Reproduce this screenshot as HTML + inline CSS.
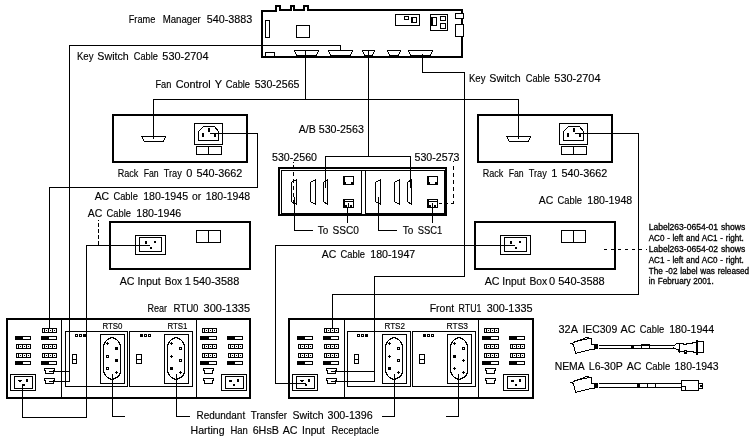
<!DOCTYPE html>
<html><head><meta charset="utf-8"><style>
html,body{margin:0;padding:0;background:#fff;}
svg{display:block;}
text{font-family:"Liberation Sans",sans-serif;fill:#000;word-spacing:2px;stroke:#000;stroke-width:0.15px;}
text.n{stroke-width:0.3px;}
svg{filter:grayscale(1);}
</style></head><body>
<svg width="754" height="440" viewBox="0 0 754 440" shape-rendering="crispEdges">
<rect width="754" height="440" fill="#fff"/>
<rect x="261" y="10" width="2" height="48" fill="#000"/>
<rect x="461" y="9" width="2" height="49" fill="#000"/>
<rect x="261" y="56" width="202" height="2" fill="#000"/>
<rect x="261" y="10" width="14" height="2" fill="#000"/>
<rect x="281" y="9" width="10" height="2" fill="#000"/>
<rect x="295" y="9" width="9" height="2" fill="#000"/>
<rect x="309" y="9" width="154" height="2" fill="#000"/>
<rect x="275" y="5" width="6" height="2" fill="#000"/>
<rect x="275" y="5" width="2" height="7" fill="#000"/>
<rect x="279" y="5" width="2" height="6" fill="#000"/>
<rect x="290" y="5" width="5" height="2" fill="#000"/>
<rect x="290" y="5" width="2" height="6" fill="#000"/>
<rect x="293" y="5" width="2" height="6" fill="#000"/>
<rect x="303" y="5" width="6" height="2" fill="#000"/>
<rect x="303" y="5" width="2" height="6" fill="#000"/>
<rect x="307" y="5" width="2" height="6" fill="#000"/>
<rect x="265" y="20" width="5" height="1" fill="#000"/>
<rect x="265" y="37" width="5" height="1" fill="#000"/>
<rect x="265" y="20" width="1" height="18" fill="#000"/>
<rect x="269" y="20" width="1" height="18" fill="#000"/>
<rect x="296" y="25" width="14" height="1" fill="#000"/>
<rect x="296" y="37" width="14" height="1" fill="#000"/>
<rect x="296" y="25" width="1" height="13" fill="#000"/>
<rect x="309" y="25" width="1" height="13" fill="#000"/>
<rect x="265" y="52" width="10" height="1" fill="#000"/>
<rect x="265" y="56" width="10" height="1" fill="#000"/>
<rect x="265" y="52" width="1" height="5" fill="#000"/>
<rect x="274" y="52" width="1" height="5" fill="#000"/>
<path d="M294.5 50.5 H318.5 L316.5 55.5 H296.5 Z" fill="none" stroke="#000" stroke-width="1"/>
<path d="M328.5 50.5 H352.5 L350.5 55.5 H330.5 Z" fill="none" stroke="#000" stroke-width="1"/>
<path d="M362.5 50.5 H374.5 L372.5 55.5 H364.5 Z" fill="none" stroke="#000" stroke-width="1"/>
<path d="M387.5 50.5 H400.5 L398.5 55.5 H389.5 Z" fill="none" stroke="#000" stroke-width="1"/>
<path d="M408.5 50.5 H432.5 L430.5 55.5 H410.5 Z" fill="none" stroke="#000" stroke-width="1"/>
<rect x="395" y="14" width="25" height="1" fill="#000"/>
<rect x="395" y="25" width="25" height="1" fill="#000"/>
<rect x="395" y="14" width="1" height="12" fill="#000"/>
<rect x="419" y="14" width="1" height="12" fill="#000"/>
<rect x="404" y="16" width="5" height="1" fill="#000"/>
<rect x="404" y="19" width="5" height="1" fill="#000"/>
<rect x="404" y="16" width="1" height="4" fill="#000"/>
<rect x="408" y="16" width="1" height="4" fill="#000"/>
<rect x="411" y="17" width="6" height="1" fill="#000"/>
<rect x="411" y="22" width="6" height="1" fill="#000"/>
<rect x="411" y="17" width="1" height="6" fill="#000"/>
<rect x="416" y="17" width="1" height="6" fill="#000"/>
<rect x="412" y="17" width="1" height="6" fill="#000"/>
<rect x="430" y="14" width="18" height="1" fill="#000"/>
<rect x="430" y="30" width="18" height="1" fill="#000"/>
<rect x="430" y="14" width="1" height="17" fill="#000"/>
<rect x="447" y="14" width="1" height="17" fill="#000"/>
<rect x="431" y="17" width="6" height="1" fill="#000"/>
<rect x="431" y="25" width="6" height="1" fill="#000"/>
<rect x="431" y="17" width="1" height="9" fill="#000"/>
<rect x="436" y="17" width="1" height="9" fill="#000"/>
<rect x="432" y="17" width="1" height="9" fill="#000"/>
<rect x="440" y="16" width="6" height="1" fill="#000"/>
<rect x="440" y="20" width="6" height="1" fill="#000"/>
<rect x="440" y="16" width="1" height="5" fill="#000"/>
<rect x="445" y="16" width="1" height="5" fill="#000"/>
<rect x="440" y="23" width="6" height="1" fill="#000"/>
<rect x="440" y="28" width="6" height="1" fill="#000"/>
<rect x="440" y="23" width="1" height="6" fill="#000"/>
<rect x="445" y="23" width="1" height="6" fill="#000"/>
<rect x="455" y="13" width="9" height="1" fill="#000"/>
<rect x="455" y="18" width="9" height="1" fill="#000"/>
<rect x="455" y="13" width="1" height="6" fill="#000"/>
<rect x="463" y="13" width="1" height="6" fill="#000"/>
<rect x="456" y="14" width="7" height="4" fill="#fff"/>
<rect x="455" y="24" width="9" height="1" fill="#000"/>
<rect x="455" y="36" width="9" height="1" fill="#000"/>
<rect x="455" y="24" width="1" height="13" fill="#000"/>
<rect x="463" y="24" width="1" height="13" fill="#000"/>
<rect x="456" y="25" width="7" height="11" fill="#fff"/>
<rect x="340" y="45" width="1" height="6" fill="#000"/>
<rect x="69" y="45" width="272" height="1" fill="#000"/>
<rect x="69" y="45" width="1" height="337" fill="#000"/>
<rect x="49" y="371" width="21" height="1" fill="#000"/>
<rect x="49" y="381" width="21" height="1" fill="#000"/>
<rect x="305" y="50" width="1" height="50" fill="#000"/>
<rect x="153" y="99" width="366" height="1" fill="#000"/>
<rect x="153" y="99" width="1" height="40" fill="#000"/>
<rect x="518" y="99" width="1" height="40" fill="#000"/>
<rect x="368" y="50" width="1" height="107" fill="#000"/>
<rect x="325" y="156" width="86" height="1" fill="#000"/>
<rect x="325" y="156" width="1" height="32" fill="#000"/>
<rect x="410" y="156" width="1" height="32" fill="#000"/>
<rect x="422" y="54" width="1" height="19" fill="#000"/>
<rect x="422" y="72" width="43" height="1" fill="#000"/>
<rect x="464" y="72" width="1" height="205" fill="#000"/>
<rect x="374" y="276" width="91" height="1" fill="#000"/>
<rect x="374" y="276" width="1" height="106" fill="#000"/>
<rect x="331" y="371" width="44" height="1" fill="#000"/>
<rect x="331" y="381" width="44" height="1" fill="#000"/>
<rect x="112" y="114" width="136" height="2" fill="#000"/>
<rect x="112" y="161" width="136" height="2" fill="#000"/>
<rect x="112" y="114" width="2" height="49" fill="#000"/>
<rect x="246" y="114" width="2" height="49" fill="#000"/>
<path d="M141.5 136.5 H165.5 L163.5 141.5 H144.5 Z" fill="none" stroke="#000" stroke-width="1"/>
<rect x="194" y="123" width="29" height="1" fill="#000"/>
<rect x="194" y="144" width="29" height="1" fill="#000"/>
<rect x="194" y="123" width="1" height="22" fill="#000"/>
<rect x="222" y="123" width="1" height="22" fill="#000"/>
<path d="M198.5 140.5 V131.5 L203.5 126.5 H214.5 L218.5 131.5 V140.5 Z" fill="none" stroke="#000" stroke-width="1"/>
<rect x="202" y="133" width="2" height="4" fill="#000"/>
<rect x="208" y="128" width="2" height="4" fill="#000"/>
<rect x="214" y="133" width="2" height="4" fill="#000"/>
<rect x="196" y="146" width="26" height="1" fill="#000"/>
<rect x="196" y="154" width="26" height="1" fill="#000"/>
<rect x="196" y="146" width="1" height="9" fill="#000"/>
<rect x="221" y="146" width="1" height="9" fill="#000"/>
<rect x="208" y="146" width="1" height="9" fill="#000"/>
<rect x="477" y="114" width="136" height="2" fill="#000"/>
<rect x="477" y="161" width="136" height="2" fill="#000"/>
<rect x="477" y="114" width="2" height="49" fill="#000"/>
<rect x="611" y="114" width="2" height="49" fill="#000"/>
<path d="M506.5 136.5 H530.5 L528.5 141.5 H509.5 Z" fill="none" stroke="#000" stroke-width="1"/>
<rect x="559" y="123" width="29" height="1" fill="#000"/>
<rect x="559" y="144" width="29" height="1" fill="#000"/>
<rect x="559" y="123" width="1" height="22" fill="#000"/>
<rect x="587" y="123" width="1" height="22" fill="#000"/>
<path d="M563.5 140.5 V131.5 L568.5 126.5 H579.5 L583.5 131.5 V140.5 Z" fill="none" stroke="#000" stroke-width="1"/>
<rect x="567" y="133" width="2" height="4" fill="#000"/>
<rect x="573" y="128" width="2" height="4" fill="#000"/>
<rect x="579" y="133" width="2" height="4" fill="#000"/>
<rect x="561" y="146" width="26" height="1" fill="#000"/>
<rect x="561" y="154" width="26" height="1" fill="#000"/>
<rect x="561" y="146" width="1" height="9" fill="#000"/>
<rect x="586" y="146" width="1" height="9" fill="#000"/>
<rect x="573" y="146" width="1" height="9" fill="#000"/>
<rect x="210" y="133" width="48" height="1" fill="#000"/>
<rect x="257" y="133" width="1" height="55" fill="#000"/>
<rect x="49" y="187" width="209" height="1" fill="#000"/>
<rect x="49" y="187" width="1" height="142" fill="#000"/>
<rect x="575" y="133" width="64" height="1" fill="#000"/>
<rect x="638" y="133" width="1" height="162" fill="#000"/>
<rect x="332" y="294" width="307" height="1" fill="#000"/>
<rect x="332" y="294" width="1" height="35" fill="#000"/>
<rect x="278" y="167" width="169" height="2" fill="#000"/>
<rect x="278" y="214" width="169" height="2" fill="#000"/>
<rect x="278" y="167" width="2" height="49" fill="#000"/>
<rect x="445" y="167" width="2" height="49" fill="#000"/>
<rect x="281" y="170" width="81" height="1" fill="#000"/>
<rect x="281" y="213" width="81" height="1" fill="#000"/>
<rect x="281" y="170" width="1" height="44" fill="#000"/>
<rect x="361" y="170" width="1" height="44" fill="#000"/>
<rect x="365" y="170" width="80" height="1" fill="#000"/>
<rect x="365" y="213" width="80" height="1" fill="#000"/>
<rect x="365" y="170" width="1" height="44" fill="#000"/>
<rect x="444" y="170" width="1" height="44" fill="#000"/>
<rect x="361" y="170" width="5" height="1" fill="#000"/>
<path d="M296.5 179.5 V204.5 L291.5 201.5 V182.5 Z" fill="none" stroke="#000" stroke-width="1"/>
<path d="M315.5 179.5 V204.5 L310.5 201.5 V182.5 Z" fill="none" stroke="#000" stroke-width="1"/>
<path d="M327.5 179.5 V204.5 L323.5 201.5 V182.5 Z" fill="none" stroke="#000" stroke-width="1"/>
<rect x="343" y="176" width="11" height="1" fill="#000"/>
<rect x="343" y="184" width="11" height="1" fill="#000"/>
<rect x="343" y="176" width="1" height="9" fill="#000"/>
<rect x="353" y="176" width="1" height="9" fill="#000"/>
<rect x="344" y="182" width="2" height="2" fill="#000"/>
<rect x="351" y="182" width="2" height="2" fill="#000"/>
<rect x="344" y="177" width="1" height="7" fill="#000"/>
<rect x="343" y="199" width="11" height="1" fill="#000"/>
<rect x="343" y="207" width="11" height="1" fill="#000"/>
<rect x="343" y="199" width="1" height="9" fill="#000"/>
<rect x="353" y="199" width="1" height="9" fill="#000"/>
<rect x="343" y="201" width="11" height="1" fill="#000"/>
<rect x="344" y="200" width="1" height="7" fill="#000"/>
<rect x="345" y="205" width="2" height="2" fill="#000"/>
<rect x="350" y="205" width="2" height="2" fill="#000"/>
<rect x="348" y="203" width="1" height="5" fill="#000"/>
<path d="M380.5 179.5 V204.5 L375.5 201.5 V182.5 Z" fill="none" stroke="#000" stroke-width="1"/>
<path d="M399.5 179.5 V204.5 L394.5 201.5 V182.5 Z" fill="none" stroke="#000" stroke-width="1"/>
<path d="M411.5 179.5 V204.5 L407.5 201.5 V182.5 Z" fill="none" stroke="#000" stroke-width="1"/>
<rect x="427" y="176" width="11" height="1" fill="#000"/>
<rect x="427" y="184" width="11" height="1" fill="#000"/>
<rect x="427" y="176" width="1" height="9" fill="#000"/>
<rect x="437" y="176" width="1" height="9" fill="#000"/>
<rect x="428" y="182" width="2" height="2" fill="#000"/>
<rect x="435" y="182" width="2" height="2" fill="#000"/>
<rect x="428" y="177" width="1" height="7" fill="#000"/>
<rect x="427" y="199" width="11" height="1" fill="#000"/>
<rect x="427" y="207" width="11" height="1" fill="#000"/>
<rect x="427" y="199" width="1" height="9" fill="#000"/>
<rect x="437" y="199" width="1" height="9" fill="#000"/>
<rect x="427" y="201" width="11" height="1" fill="#000"/>
<rect x="428" y="200" width="1" height="7" fill="#000"/>
<rect x="429" y="205" width="2" height="2" fill="#000"/>
<rect x="434" y="205" width="2" height="2" fill="#000"/>
<rect x="432" y="203" width="1" height="5" fill="#000"/>
<rect x="294" y="197" width="1" height="34" fill="#000"/>
<rect x="294" y="230" width="19" height="1" fill="#000"/>
<rect x="347" y="207" width="1" height="16" fill="#000"/>
<rect x="378" y="197" width="1" height="34" fill="#000"/>
<rect x="378" y="230" width="19" height="1" fill="#000"/>
<rect x="432" y="207" width="1" height="16" fill="#000"/>
<rect x="293" y="162" width="1" height="1" fill="#000"/>
<rect x="293" y="165" width="1" height="4" fill="#000"/>
<rect x="293" y="172" width="1" height="4" fill="#000"/>
<rect x="293" y="179" width="1" height="4" fill="#000"/>
<rect x="293" y="186" width="1" height="4" fill="#000"/>
<rect x="293" y="193" width="1" height="4" fill="#000"/>
<rect x="293" y="200" width="1" height="4" fill="#000"/>
<rect x="453" y="161" width="1" height="1" fill="#000"/>
<rect x="453" y="166" width="1" height="4" fill="#000"/>
<rect x="453" y="173" width="1" height="4" fill="#000"/>
<rect x="453" y="180" width="1" height="4" fill="#000"/>
<rect x="453" y="187" width="1" height="4" fill="#000"/>
<rect x="453" y="194" width="1" height="4" fill="#000"/>
<rect x="453" y="201" width="1" height="3" fill="#000"/>
<rect x="439" y="203" width="3" height="1" fill="#000"/>
<rect x="445" y="203" width="3" height="1" fill="#000"/>
<rect x="451" y="203" width="3" height="1" fill="#000"/>
<rect x="109" y="221" width="142" height="2" fill="#000"/>
<rect x="109" y="268" width="142" height="2" fill="#000"/>
<rect x="109" y="221" width="2" height="49" fill="#000"/>
<rect x="249" y="221" width="2" height="49" fill="#000"/>
<rect x="135" y="235" width="31" height="1" fill="#000"/>
<rect x="135" y="254" width="31" height="1" fill="#000"/>
<rect x="135" y="235" width="1" height="20" fill="#000"/>
<rect x="165" y="235" width="1" height="20" fill="#000"/>
<rect x="139" y="237" width="23" height="1" fill="#000"/>
<rect x="139" y="251" width="23" height="1" fill="#000"/>
<rect x="139" y="237" width="1" height="15" fill="#000"/>
<rect x="161" y="237" width="1" height="15" fill="#000"/>
<rect x="145" y="241" width="2" height="3" fill="#000"/>
<rect x="154" y="241" width="2" height="2" fill="#000"/>
<rect x="150" y="247" width="2" height="2" fill="#000"/>
<rect x="196" y="230" width="25" height="1" fill="#000"/>
<rect x="196" y="242" width="25" height="1" fill="#000"/>
<rect x="196" y="230" width="1" height="13" fill="#000"/>
<rect x="220" y="230" width="1" height="13" fill="#000"/>
<rect x="208" y="230" width="1" height="13" fill="#000"/>
<rect x="474" y="221" width="142" height="2" fill="#000"/>
<rect x="474" y="268" width="142" height="2" fill="#000"/>
<rect x="474" y="221" width="2" height="49" fill="#000"/>
<rect x="614" y="221" width="2" height="49" fill="#000"/>
<rect x="500" y="235" width="31" height="1" fill="#000"/>
<rect x="500" y="254" width="31" height="1" fill="#000"/>
<rect x="500" y="235" width="1" height="20" fill="#000"/>
<rect x="530" y="235" width="1" height="20" fill="#000"/>
<rect x="504" y="237" width="23" height="1" fill="#000"/>
<rect x="504" y="251" width="23" height="1" fill="#000"/>
<rect x="504" y="237" width="1" height="15" fill="#000"/>
<rect x="526" y="237" width="1" height="15" fill="#000"/>
<rect x="510" y="241" width="2" height="3" fill="#000"/>
<rect x="519" y="241" width="2" height="2" fill="#000"/>
<rect x="515" y="247" width="2" height="2" fill="#000"/>
<rect x="561" y="230" width="25" height="1" fill="#000"/>
<rect x="561" y="242" width="25" height="1" fill="#000"/>
<rect x="561" y="230" width="1" height="13" fill="#000"/>
<rect x="585" y="230" width="1" height="13" fill="#000"/>
<rect x="573" y="230" width="1" height="13" fill="#000"/>
<rect x="86" y="245" width="64" height="1" fill="#000"/>
<rect x="86" y="245" width="1" height="173" fill="#000"/>
<rect x="22" y="417" width="65" height="1" fill="#000"/>
<rect x="22" y="384" width="1" height="34" fill="#000"/>
<rect x="98" y="220" width="1" height="1" fill="#000"/>
<rect x="98" y="223" width="1" height="4" fill="#000"/>
<rect x="98" y="229" width="1" height="4" fill="#000"/>
<rect x="98" y="235" width="1" height="4" fill="#000"/>
<rect x="98" y="241" width="1" height="4" fill="#000"/>
<rect x="275" y="245" width="240" height="1" fill="#000"/>
<rect x="275" y="245" width="1" height="139" fill="#000"/>
<rect x="275" y="383" width="31" height="1" fill="#000"/>
<rect x="604" y="249" width="3" height="1" fill="#000"/>
<rect x="611" y="249" width="3" height="1" fill="#000"/>
<rect x="618" y="249" width="3" height="1" fill="#000"/>
<rect x="625" y="249" width="3" height="1" fill="#000"/>
<rect x="632" y="249" width="3" height="1" fill="#000"/>
<rect x="639" y="249" width="3" height="1" fill="#000"/>
<rect x="646" y="249" width="1" height="1" fill="#000"/>
<rect x="6" y="318" width="245" height="2" fill="#000"/>
<rect x="6" y="397" width="245" height="2" fill="#000"/>
<rect x="6" y="318" width="2" height="81" fill="#000"/>
<rect x="249" y="318" width="2" height="81" fill="#000"/>
<rect x="61" y="318" width="1" height="81" fill="#000"/>
<rect x="196" y="318" width="1" height="81" fill="#000"/>
<rect x="42" y="328" width="15" height="1" fill="#000"/>
<rect x="42" y="332" width="15" height="1" fill="#000"/>
<rect x="42" y="328" width="1" height="5" fill="#000"/>
<rect x="56" y="328" width="1" height="5" fill="#000"/>
<rect x="44" y="329" width="1" height="3" fill="#000"/>
<rect x="46" y="330" width="1" height="1" fill="#000"/>
<rect x="48" y="329" width="1" height="3" fill="#000"/>
<rect x="50" y="330" width="1" height="1" fill="#000"/>
<rect x="52" y="329" width="1" height="3" fill="#000"/>
<rect x="54" y="330" width="1" height="1" fill="#000"/>
<rect x="15" y="336" width="16" height="1" fill="#000"/>
<rect x="15" y="339" width="16" height="1" fill="#000"/>
<rect x="15" y="336" width="1" height="4" fill="#000"/>
<rect x="30" y="336" width="1" height="4" fill="#000"/>
<rect x="15" y="336" width="8" height="4" fill="#000"/>
<rect x="41" y="336" width="16" height="1" fill="#000"/>
<rect x="41" y="339" width="16" height="1" fill="#000"/>
<rect x="41" y="336" width="1" height="4" fill="#000"/>
<rect x="56" y="336" width="1" height="4" fill="#000"/>
<rect x="41" y="336" width="8" height="4" fill="#000"/>
<rect x="16" y="344" width="15" height="1" fill="#000"/>
<rect x="16" y="348" width="15" height="1" fill="#000"/>
<rect x="16" y="344" width="1" height="5" fill="#000"/>
<rect x="30" y="344" width="1" height="5" fill="#000"/>
<rect x="18" y="345" width="1" height="3" fill="#000"/>
<rect x="20" y="346" width="1" height="1" fill="#000"/>
<rect x="22" y="345" width="1" height="3" fill="#000"/>
<rect x="24" y="346" width="1" height="1" fill="#000"/>
<rect x="26" y="345" width="1" height="3" fill="#000"/>
<rect x="28" y="346" width="1" height="1" fill="#000"/>
<rect x="42" y="344" width="15" height="1" fill="#000"/>
<rect x="42" y="348" width="15" height="1" fill="#000"/>
<rect x="42" y="344" width="1" height="5" fill="#000"/>
<rect x="56" y="344" width="1" height="5" fill="#000"/>
<rect x="44" y="345" width="1" height="3" fill="#000"/>
<rect x="46" y="346" width="1" height="1" fill="#000"/>
<rect x="48" y="345" width="1" height="3" fill="#000"/>
<rect x="50" y="346" width="1" height="1" fill="#000"/>
<rect x="52" y="345" width="1" height="3" fill="#000"/>
<rect x="54" y="346" width="1" height="1" fill="#000"/>
<rect x="16" y="353" width="15" height="1" fill="#000"/>
<rect x="16" y="357" width="15" height="1" fill="#000"/>
<rect x="16" y="353" width="1" height="5" fill="#000"/>
<rect x="30" y="353" width="1" height="5" fill="#000"/>
<rect x="18" y="354" width="1" height="3" fill="#000"/>
<rect x="20" y="355" width="1" height="1" fill="#000"/>
<rect x="22" y="354" width="1" height="3" fill="#000"/>
<rect x="24" y="355" width="1" height="1" fill="#000"/>
<rect x="26" y="354" width="1" height="3" fill="#000"/>
<rect x="28" y="355" width="1" height="1" fill="#000"/>
<rect x="42" y="353" width="15" height="1" fill="#000"/>
<rect x="42" y="357" width="15" height="1" fill="#000"/>
<rect x="42" y="353" width="1" height="5" fill="#000"/>
<rect x="56" y="353" width="1" height="5" fill="#000"/>
<rect x="44" y="354" width="1" height="3" fill="#000"/>
<rect x="46" y="355" width="1" height="1" fill="#000"/>
<rect x="48" y="354" width="1" height="3" fill="#000"/>
<rect x="50" y="355" width="1" height="1" fill="#000"/>
<rect x="52" y="354" width="1" height="3" fill="#000"/>
<rect x="54" y="355" width="1" height="1" fill="#000"/>
<rect x="15" y="361" width="16" height="1" fill="#000"/>
<rect x="15" y="364" width="16" height="1" fill="#000"/>
<rect x="15" y="361" width="1" height="4" fill="#000"/>
<rect x="30" y="361" width="1" height="4" fill="#000"/>
<rect x="15" y="361" width="8" height="4" fill="#000"/>
<rect x="41" y="361" width="16" height="1" fill="#000"/>
<rect x="41" y="364" width="16" height="1" fill="#000"/>
<rect x="41" y="361" width="1" height="4" fill="#000"/>
<rect x="56" y="361" width="1" height="4" fill="#000"/>
<rect x="41" y="361" width="8" height="4" fill="#000"/>
<path d="M44.5 368.5 H54.5 V370.5 H53.5 L53.5 373.5 H45.5 V370.5 H44.5 Z" fill="none" stroke="#000" stroke-width="1"/>
<path d="M44.5 378.5 H54.5 V380.5 H53.5 L53.5 383.5 H45.5 V380.5 H44.5 Z" fill="none" stroke="#000" stroke-width="1"/>
<rect x="10" y="374" width="26" height="1" fill="#000"/>
<rect x="10" y="390" width="26" height="1" fill="#000"/>
<rect x="10" y="374" width="1" height="17" fill="#000"/>
<rect x="35" y="374" width="1" height="17" fill="#000"/>
<rect x="14" y="376" width="19" height="1" fill="#000"/>
<rect x="14" y="388" width="19" height="1" fill="#000"/>
<rect x="14" y="376" width="1" height="13" fill="#000"/>
<rect x="32" y="376" width="1" height="13" fill="#000"/>
<rect x="18" y="380" width="4" height="1" fill="#000"/>
<rect x="19" y="381" width="2" height="1" fill="#000"/>
<rect x="26" y="379" width="2" height="3" fill="#000"/>
<rect x="23" y="384" width="2" height="2" fill="#000"/>
<rect x="202" y="328" width="15" height="1" fill="#000"/>
<rect x="202" y="332" width="15" height="1" fill="#000"/>
<rect x="202" y="328" width="1" height="5" fill="#000"/>
<rect x="216" y="328" width="1" height="5" fill="#000"/>
<rect x="204" y="329" width="1" height="3" fill="#000"/>
<rect x="206" y="330" width="1" height="1" fill="#000"/>
<rect x="208" y="329" width="1" height="3" fill="#000"/>
<rect x="210" y="330" width="1" height="1" fill="#000"/>
<rect x="212" y="329" width="1" height="3" fill="#000"/>
<rect x="214" y="330" width="1" height="1" fill="#000"/>
<rect x="200" y="336" width="17" height="1" fill="#000"/>
<rect x="200" y="339" width="17" height="1" fill="#000"/>
<rect x="200" y="336" width="1" height="4" fill="#000"/>
<rect x="216" y="336" width="1" height="4" fill="#000"/>
<rect x="200" y="336" width="9" height="4" fill="#000"/>
<rect x="227" y="336" width="16" height="1" fill="#000"/>
<rect x="227" y="339" width="16" height="1" fill="#000"/>
<rect x="227" y="336" width="1" height="4" fill="#000"/>
<rect x="242" y="336" width="1" height="4" fill="#000"/>
<rect x="227" y="336" width="8" height="4" fill="#000"/>
<rect x="202" y="344" width="15" height="1" fill="#000"/>
<rect x="202" y="348" width="15" height="1" fill="#000"/>
<rect x="202" y="344" width="1" height="5" fill="#000"/>
<rect x="216" y="344" width="1" height="5" fill="#000"/>
<rect x="204" y="345" width="1" height="3" fill="#000"/>
<rect x="206" y="346" width="1" height="1" fill="#000"/>
<rect x="208" y="345" width="1" height="3" fill="#000"/>
<rect x="210" y="346" width="1" height="1" fill="#000"/>
<rect x="212" y="345" width="1" height="3" fill="#000"/>
<rect x="214" y="346" width="1" height="1" fill="#000"/>
<rect x="228" y="344" width="15" height="1" fill="#000"/>
<rect x="228" y="348" width="15" height="1" fill="#000"/>
<rect x="228" y="344" width="1" height="5" fill="#000"/>
<rect x="242" y="344" width="1" height="5" fill="#000"/>
<rect x="230" y="345" width="1" height="3" fill="#000"/>
<rect x="232" y="346" width="1" height="1" fill="#000"/>
<rect x="234" y="345" width="1" height="3" fill="#000"/>
<rect x="236" y="346" width="1" height="1" fill="#000"/>
<rect x="238" y="345" width="1" height="3" fill="#000"/>
<rect x="240" y="346" width="1" height="1" fill="#000"/>
<rect x="202" y="353" width="15" height="1" fill="#000"/>
<rect x="202" y="357" width="15" height="1" fill="#000"/>
<rect x="202" y="353" width="1" height="5" fill="#000"/>
<rect x="216" y="353" width="1" height="5" fill="#000"/>
<rect x="204" y="354" width="1" height="3" fill="#000"/>
<rect x="206" y="355" width="1" height="1" fill="#000"/>
<rect x="208" y="354" width="1" height="3" fill="#000"/>
<rect x="210" y="355" width="1" height="1" fill="#000"/>
<rect x="212" y="354" width="1" height="3" fill="#000"/>
<rect x="214" y="355" width="1" height="1" fill="#000"/>
<rect x="228" y="353" width="15" height="1" fill="#000"/>
<rect x="228" y="357" width="15" height="1" fill="#000"/>
<rect x="228" y="353" width="1" height="5" fill="#000"/>
<rect x="242" y="353" width="1" height="5" fill="#000"/>
<rect x="230" y="354" width="1" height="3" fill="#000"/>
<rect x="232" y="355" width="1" height="1" fill="#000"/>
<rect x="234" y="354" width="1" height="3" fill="#000"/>
<rect x="236" y="355" width="1" height="1" fill="#000"/>
<rect x="238" y="354" width="1" height="3" fill="#000"/>
<rect x="240" y="355" width="1" height="1" fill="#000"/>
<rect x="200" y="361" width="17" height="1" fill="#000"/>
<rect x="200" y="364" width="17" height="1" fill="#000"/>
<rect x="200" y="361" width="1" height="4" fill="#000"/>
<rect x="216" y="361" width="1" height="4" fill="#000"/>
<rect x="200" y="361" width="9" height="4" fill="#000"/>
<rect x="227" y="361" width="16" height="1" fill="#000"/>
<rect x="227" y="364" width="16" height="1" fill="#000"/>
<rect x="227" y="361" width="1" height="4" fill="#000"/>
<rect x="242" y="361" width="1" height="4" fill="#000"/>
<rect x="227" y="361" width="8" height="4" fill="#000"/>
<path d="M203.5 368.5 H213.5 V370.5 H212.5 L212.5 373.5 H204.5 V370.5 H203.5 Z" fill="none" stroke="#000" stroke-width="1"/>
<path d="M203.5 378.5 H213.5 V380.5 H212.5 L212.5 383.5 H204.5 V380.5 H203.5 Z" fill="none" stroke="#000" stroke-width="1"/>
<rect x="221" y="374" width="26" height="1" fill="#000"/>
<rect x="221" y="390" width="26" height="1" fill="#000"/>
<rect x="221" y="374" width="1" height="17" fill="#000"/>
<rect x="246" y="374" width="1" height="17" fill="#000"/>
<rect x="225" y="376" width="19" height="1" fill="#000"/>
<rect x="225" y="388" width="19" height="1" fill="#000"/>
<rect x="225" y="376" width="1" height="13" fill="#000"/>
<rect x="243" y="376" width="1" height="13" fill="#000"/>
<rect x="229" y="380" width="3" height="2" fill="#000"/>
<rect x="237" y="379" width="2" height="3" fill="#000"/>
<rect x="233" y="384" width="2" height="2" fill="#000"/>
<rect x="65" y="331" width="63" height="1" fill="#000"/>
<rect x="65" y="386" width="63" height="1" fill="#000"/>
<rect x="65" y="331" width="1" height="56" fill="#000"/>
<rect x="127" y="331" width="1" height="56" fill="#000"/>
<rect x="129" y="331" width="64" height="1" fill="#000"/>
<rect x="129" y="386" width="64" height="1" fill="#000"/>
<rect x="129" y="331" width="1" height="56" fill="#000"/>
<rect x="192" y="331" width="1" height="56" fill="#000"/>
<rect x="100" y="334" width="25" height="1" fill="#000"/>
<rect x="100" y="383" width="25" height="1" fill="#000"/>
<rect x="100" y="334" width="1" height="50" fill="#000"/>
<rect x="124" y="334" width="1" height="50" fill="#000"/>
<path d="M103.5 345.5 L104.5 343.5 L105.5 341.5 L107.5 339.5 L109.5 338.5 L111.5 337.5 L112.5 337.5 L114.5 338.5 L116.5 339.5 L118.5 341.5 L119.5 343.5 L120.5 345.5 L120.5 372.5 L119.5 374.5 L118.5 376.5 L116.5 377.5 L114.5 378.5 L112.5 379.5 L111.5 379.5 L109.5 378.5 L107.5 377.5 L105.5 375.5 L104.5 373.5 L103.5 371.5 Z" fill="none" stroke="#000" stroke-width="1"/>
<rect x="107" y="342" width="1" height="3" fill="#000"/>
<rect x="106" y="343" width="3" height="1" fill="#000"/>
<rect x="106" y="355" width="3" height="1" fill="#000"/>
<rect x="106" y="357" width="3" height="1" fill="#000"/>
<rect x="106" y="355" width="1" height="3" fill="#000"/>
<rect x="108" y="355" width="1" height="3" fill="#000"/>
<rect x="106" y="367" width="3" height="1" fill="#000"/>
<rect x="106" y="369" width="3" height="1" fill="#000"/>
<rect x="106" y="367" width="1" height="3" fill="#000"/>
<rect x="108" y="367" width="1" height="3" fill="#000"/>
<rect x="115" y="347" width="3" height="3" fill="#000"/>
<rect x="115" y="359" width="3" height="3" fill="#000"/>
<rect x="116" y="371" width="1" height="3" fill="#000"/>
<rect x="115" y="372" width="3" height="1" fill="#000"/>
<rect x="164" y="334" width="25" height="1" fill="#000"/>
<rect x="164" y="383" width="25" height="1" fill="#000"/>
<rect x="164" y="334" width="1" height="50" fill="#000"/>
<rect x="188" y="334" width="1" height="50" fill="#000"/>
<path d="M167.5 345.5 L168.5 343.5 L169.5 341.5 L171.5 339.5 L173.5 338.5 L175.5 337.5 L176.5 337.5 L178.5 338.5 L180.5 339.5 L182.5 341.5 L183.5 343.5 L184.5 345.5 L184.5 372.5 L183.5 374.5 L182.5 376.5 L180.5 377.5 L178.5 378.5 L176.5 379.5 L175.5 379.5 L173.5 378.5 L171.5 377.5 L169.5 375.5 L168.5 373.5 L167.5 371.5 Z" fill="none" stroke="#000" stroke-width="1"/>
<rect x="171" y="342" width="1" height="3" fill="#000"/>
<rect x="170" y="343" width="3" height="1" fill="#000"/>
<rect x="171" y="355" width="1" height="3" fill="#000"/>
<rect x="170" y="356" width="3" height="1" fill="#000"/>
<rect x="170" y="367" width="3" height="3" fill="#000"/>
<rect x="179" y="347" width="3" height="1" fill="#000"/>
<rect x="179" y="349" width="3" height="1" fill="#000"/>
<rect x="179" y="347" width="1" height="3" fill="#000"/>
<rect x="181" y="347" width="1" height="3" fill="#000"/>
<rect x="179" y="359" width="3" height="1" fill="#000"/>
<rect x="179" y="361" width="3" height="1" fill="#000"/>
<rect x="179" y="359" width="1" height="3" fill="#000"/>
<rect x="181" y="359" width="1" height="3" fill="#000"/>
<rect x="180" y="371" width="1" height="3" fill="#000"/>
<rect x="179" y="372" width="3" height="1" fill="#000"/>
<rect x="75" y="334" width="3" height="1" fill="#000"/>
<rect x="75" y="336" width="3" height="1" fill="#000"/>
<rect x="75" y="334" width="1" height="3" fill="#000"/>
<rect x="77" y="334" width="1" height="3" fill="#000"/>
<rect x="79" y="334" width="3" height="1" fill="#000"/>
<rect x="79" y="336" width="3" height="1" fill="#000"/>
<rect x="79" y="334" width="1" height="3" fill="#000"/>
<rect x="81" y="334" width="1" height="3" fill="#000"/>
<rect x="83" y="334" width="3" height="3" fill="#000"/>
<rect x="140" y="334" width="3" height="3" fill="#000"/>
<rect x="144" y="334" width="3" height="1" fill="#000"/>
<rect x="144" y="336" width="3" height="1" fill="#000"/>
<rect x="144" y="334" width="1" height="3" fill="#000"/>
<rect x="146" y="334" width="1" height="3" fill="#000"/>
<rect x="148" y="334" width="3" height="1" fill="#000"/>
<rect x="148" y="336" width="3" height="1" fill="#000"/>
<rect x="148" y="334" width="1" height="3" fill="#000"/>
<rect x="150" y="334" width="1" height="3" fill="#000"/>
<rect x="72" y="354" width="5" height="1" fill="#000"/>
<rect x="72" y="363" width="5" height="1" fill="#000"/>
<rect x="72" y="354" width="1" height="10" fill="#000"/>
<rect x="76" y="354" width="1" height="10" fill="#000"/>
<rect x="72" y="359" width="5" height="1" fill="#000"/>
<rect x="136" y="354" width="6" height="1" fill="#000"/>
<rect x="136" y="363" width="6" height="1" fill="#000"/>
<rect x="136" y="354" width="1" height="10" fill="#000"/>
<rect x="141" y="354" width="1" height="10" fill="#000"/>
<rect x="136" y="359" width="6" height="1" fill="#000"/>
<rect x="288" y="318" width="246" height="2" fill="#000"/>
<rect x="288" y="397" width="246" height="2" fill="#000"/>
<rect x="288" y="318" width="2" height="81" fill="#000"/>
<rect x="532" y="318" width="2" height="81" fill="#000"/>
<rect x="344" y="318" width="1" height="81" fill="#000"/>
<rect x="478" y="318" width="1" height="81" fill="#000"/>
<rect x="324" y="328" width="15" height="1" fill="#000"/>
<rect x="324" y="332" width="15" height="1" fill="#000"/>
<rect x="324" y="328" width="1" height="5" fill="#000"/>
<rect x="338" y="328" width="1" height="5" fill="#000"/>
<rect x="326" y="329" width="1" height="3" fill="#000"/>
<rect x="328" y="330" width="1" height="1" fill="#000"/>
<rect x="330" y="329" width="1" height="3" fill="#000"/>
<rect x="332" y="330" width="1" height="1" fill="#000"/>
<rect x="334" y="329" width="1" height="3" fill="#000"/>
<rect x="336" y="330" width="1" height="1" fill="#000"/>
<rect x="297" y="336" width="16" height="1" fill="#000"/>
<rect x="297" y="339" width="16" height="1" fill="#000"/>
<rect x="297" y="336" width="1" height="4" fill="#000"/>
<rect x="312" y="336" width="1" height="4" fill="#000"/>
<rect x="297" y="336" width="8" height="4" fill="#000"/>
<rect x="323" y="336" width="16" height="1" fill="#000"/>
<rect x="323" y="339" width="16" height="1" fill="#000"/>
<rect x="323" y="336" width="1" height="4" fill="#000"/>
<rect x="338" y="336" width="1" height="4" fill="#000"/>
<rect x="323" y="336" width="8" height="4" fill="#000"/>
<rect x="298" y="344" width="15" height="1" fill="#000"/>
<rect x="298" y="348" width="15" height="1" fill="#000"/>
<rect x="298" y="344" width="1" height="5" fill="#000"/>
<rect x="312" y="344" width="1" height="5" fill="#000"/>
<rect x="300" y="345" width="1" height="3" fill="#000"/>
<rect x="302" y="346" width="1" height="1" fill="#000"/>
<rect x="304" y="345" width="1" height="3" fill="#000"/>
<rect x="306" y="346" width="1" height="1" fill="#000"/>
<rect x="308" y="345" width="1" height="3" fill="#000"/>
<rect x="310" y="346" width="1" height="1" fill="#000"/>
<rect x="324" y="344" width="15" height="1" fill="#000"/>
<rect x="324" y="348" width="15" height="1" fill="#000"/>
<rect x="324" y="344" width="1" height="5" fill="#000"/>
<rect x="338" y="344" width="1" height="5" fill="#000"/>
<rect x="326" y="345" width="1" height="3" fill="#000"/>
<rect x="328" y="346" width="1" height="1" fill="#000"/>
<rect x="330" y="345" width="1" height="3" fill="#000"/>
<rect x="332" y="346" width="1" height="1" fill="#000"/>
<rect x="334" y="345" width="1" height="3" fill="#000"/>
<rect x="336" y="346" width="1" height="1" fill="#000"/>
<rect x="298" y="353" width="15" height="1" fill="#000"/>
<rect x="298" y="357" width="15" height="1" fill="#000"/>
<rect x="298" y="353" width="1" height="5" fill="#000"/>
<rect x="312" y="353" width="1" height="5" fill="#000"/>
<rect x="300" y="354" width="1" height="3" fill="#000"/>
<rect x="302" y="355" width="1" height="1" fill="#000"/>
<rect x="304" y="354" width="1" height="3" fill="#000"/>
<rect x="306" y="355" width="1" height="1" fill="#000"/>
<rect x="308" y="354" width="1" height="3" fill="#000"/>
<rect x="310" y="355" width="1" height="1" fill="#000"/>
<rect x="324" y="353" width="15" height="1" fill="#000"/>
<rect x="324" y="357" width="15" height="1" fill="#000"/>
<rect x="324" y="353" width="1" height="5" fill="#000"/>
<rect x="338" y="353" width="1" height="5" fill="#000"/>
<rect x="326" y="354" width="1" height="3" fill="#000"/>
<rect x="328" y="355" width="1" height="1" fill="#000"/>
<rect x="330" y="354" width="1" height="3" fill="#000"/>
<rect x="332" y="355" width="1" height="1" fill="#000"/>
<rect x="334" y="354" width="1" height="3" fill="#000"/>
<rect x="336" y="355" width="1" height="1" fill="#000"/>
<rect x="297" y="361" width="16" height="1" fill="#000"/>
<rect x="297" y="364" width="16" height="1" fill="#000"/>
<rect x="297" y="361" width="1" height="4" fill="#000"/>
<rect x="312" y="361" width="1" height="4" fill="#000"/>
<rect x="297" y="361" width="8" height="4" fill="#000"/>
<rect x="323" y="361" width="16" height="1" fill="#000"/>
<rect x="323" y="364" width="16" height="1" fill="#000"/>
<rect x="323" y="361" width="1" height="4" fill="#000"/>
<rect x="338" y="361" width="1" height="4" fill="#000"/>
<rect x="323" y="361" width="8" height="4" fill="#000"/>
<path d="M326.5 368.5 H336.5 V370.5 H335.5 L335.5 373.5 H327.5 V370.5 H326.5 Z" fill="none" stroke="#000" stroke-width="1"/>
<path d="M326.5 378.5 H336.5 V380.5 H335.5 L335.5 383.5 H327.5 V380.5 H326.5 Z" fill="none" stroke="#000" stroke-width="1"/>
<rect x="292" y="374" width="26" height="1" fill="#000"/>
<rect x="292" y="390" width="26" height="1" fill="#000"/>
<rect x="292" y="374" width="1" height="17" fill="#000"/>
<rect x="317" y="374" width="1" height="17" fill="#000"/>
<rect x="296" y="376" width="19" height="1" fill="#000"/>
<rect x="296" y="388" width="19" height="1" fill="#000"/>
<rect x="296" y="376" width="1" height="13" fill="#000"/>
<rect x="314" y="376" width="1" height="13" fill="#000"/>
<rect x="300" y="380" width="4" height="1" fill="#000"/>
<rect x="301" y="381" width="2" height="1" fill="#000"/>
<rect x="308" y="379" width="2" height="3" fill="#000"/>
<rect x="305" y="384" width="2" height="2" fill="#000"/>
<rect x="484" y="328" width="15" height="1" fill="#000"/>
<rect x="484" y="332" width="15" height="1" fill="#000"/>
<rect x="484" y="328" width="1" height="5" fill="#000"/>
<rect x="498" y="328" width="1" height="5" fill="#000"/>
<rect x="486" y="329" width="1" height="3" fill="#000"/>
<rect x="488" y="330" width="1" height="1" fill="#000"/>
<rect x="490" y="329" width="1" height="3" fill="#000"/>
<rect x="492" y="330" width="1" height="1" fill="#000"/>
<rect x="494" y="329" width="1" height="3" fill="#000"/>
<rect x="496" y="330" width="1" height="1" fill="#000"/>
<rect x="482" y="336" width="17" height="1" fill="#000"/>
<rect x="482" y="339" width="17" height="1" fill="#000"/>
<rect x="482" y="336" width="1" height="4" fill="#000"/>
<rect x="498" y="336" width="1" height="4" fill="#000"/>
<rect x="482" y="336" width="9" height="4" fill="#000"/>
<rect x="509" y="336" width="16" height="1" fill="#000"/>
<rect x="509" y="339" width="16" height="1" fill="#000"/>
<rect x="509" y="336" width="1" height="4" fill="#000"/>
<rect x="524" y="336" width="1" height="4" fill="#000"/>
<rect x="509" y="336" width="8" height="4" fill="#000"/>
<rect x="484" y="344" width="15" height="1" fill="#000"/>
<rect x="484" y="348" width="15" height="1" fill="#000"/>
<rect x="484" y="344" width="1" height="5" fill="#000"/>
<rect x="498" y="344" width="1" height="5" fill="#000"/>
<rect x="486" y="345" width="1" height="3" fill="#000"/>
<rect x="488" y="346" width="1" height="1" fill="#000"/>
<rect x="490" y="345" width="1" height="3" fill="#000"/>
<rect x="492" y="346" width="1" height="1" fill="#000"/>
<rect x="494" y="345" width="1" height="3" fill="#000"/>
<rect x="496" y="346" width="1" height="1" fill="#000"/>
<rect x="510" y="344" width="15" height="1" fill="#000"/>
<rect x="510" y="348" width="15" height="1" fill="#000"/>
<rect x="510" y="344" width="1" height="5" fill="#000"/>
<rect x="524" y="344" width="1" height="5" fill="#000"/>
<rect x="512" y="345" width="1" height="3" fill="#000"/>
<rect x="514" y="346" width="1" height="1" fill="#000"/>
<rect x="516" y="345" width="1" height="3" fill="#000"/>
<rect x="518" y="346" width="1" height="1" fill="#000"/>
<rect x="520" y="345" width="1" height="3" fill="#000"/>
<rect x="522" y="346" width="1" height="1" fill="#000"/>
<rect x="484" y="353" width="15" height="1" fill="#000"/>
<rect x="484" y="357" width="15" height="1" fill="#000"/>
<rect x="484" y="353" width="1" height="5" fill="#000"/>
<rect x="498" y="353" width="1" height="5" fill="#000"/>
<rect x="486" y="354" width="1" height="3" fill="#000"/>
<rect x="488" y="355" width="1" height="1" fill="#000"/>
<rect x="490" y="354" width="1" height="3" fill="#000"/>
<rect x="492" y="355" width="1" height="1" fill="#000"/>
<rect x="494" y="354" width="1" height="3" fill="#000"/>
<rect x="496" y="355" width="1" height="1" fill="#000"/>
<rect x="510" y="353" width="15" height="1" fill="#000"/>
<rect x="510" y="357" width="15" height="1" fill="#000"/>
<rect x="510" y="353" width="1" height="5" fill="#000"/>
<rect x="524" y="353" width="1" height="5" fill="#000"/>
<rect x="512" y="354" width="1" height="3" fill="#000"/>
<rect x="514" y="355" width="1" height="1" fill="#000"/>
<rect x="516" y="354" width="1" height="3" fill="#000"/>
<rect x="518" y="355" width="1" height="1" fill="#000"/>
<rect x="520" y="354" width="1" height="3" fill="#000"/>
<rect x="522" y="355" width="1" height="1" fill="#000"/>
<rect x="482" y="361" width="17" height="1" fill="#000"/>
<rect x="482" y="364" width="17" height="1" fill="#000"/>
<rect x="482" y="361" width="1" height="4" fill="#000"/>
<rect x="498" y="361" width="1" height="4" fill="#000"/>
<rect x="482" y="361" width="9" height="4" fill="#000"/>
<rect x="509" y="361" width="16" height="1" fill="#000"/>
<rect x="509" y="364" width="16" height="1" fill="#000"/>
<rect x="509" y="361" width="1" height="4" fill="#000"/>
<rect x="524" y="361" width="1" height="4" fill="#000"/>
<rect x="509" y="361" width="8" height="4" fill="#000"/>
<path d="M485.5 368.5 H495.5 V370.5 H494.5 L494.5 373.5 H486.5 V370.5 H485.5 Z" fill="none" stroke="#000" stroke-width="1"/>
<path d="M485.5 378.5 H495.5 V380.5 H494.5 L494.5 383.5 H486.5 V380.5 H485.5 Z" fill="none" stroke="#000" stroke-width="1"/>
<rect x="503" y="374" width="26" height="1" fill="#000"/>
<rect x="503" y="390" width="26" height="1" fill="#000"/>
<rect x="503" y="374" width="1" height="17" fill="#000"/>
<rect x="528" y="374" width="1" height="17" fill="#000"/>
<rect x="507" y="376" width="19" height="1" fill="#000"/>
<rect x="507" y="388" width="19" height="1" fill="#000"/>
<rect x="507" y="376" width="1" height="13" fill="#000"/>
<rect x="525" y="376" width="1" height="13" fill="#000"/>
<rect x="511" y="380" width="3" height="2" fill="#000"/>
<rect x="519" y="379" width="2" height="3" fill="#000"/>
<rect x="515" y="384" width="2" height="2" fill="#000"/>
<rect x="347" y="331" width="64" height="1" fill="#000"/>
<rect x="347" y="386" width="64" height="1" fill="#000"/>
<rect x="347" y="331" width="1" height="56" fill="#000"/>
<rect x="410" y="331" width="1" height="56" fill="#000"/>
<rect x="412" y="331" width="64" height="1" fill="#000"/>
<rect x="412" y="386" width="64" height="1" fill="#000"/>
<rect x="412" y="331" width="1" height="56" fill="#000"/>
<rect x="475" y="331" width="1" height="56" fill="#000"/>
<rect x="382" y="334" width="25" height="1" fill="#000"/>
<rect x="382" y="383" width="25" height="1" fill="#000"/>
<rect x="382" y="334" width="1" height="50" fill="#000"/>
<rect x="406" y="334" width="1" height="50" fill="#000"/>
<path d="M385.5 345.5 L386.5 343.5 L387.5 341.5 L389.5 339.5 L391.5 338.5 L393.5 337.5 L394.5 337.5 L396.5 338.5 L398.5 339.5 L400.5 341.5 L401.5 343.5 L402.5 345.5 L402.5 372.5 L401.5 374.5 L400.5 376.5 L398.5 377.5 L396.5 378.5 L394.5 379.5 L393.5 379.5 L391.5 378.5 L389.5 377.5 L387.5 375.5 L386.5 373.5 L385.5 371.5 Z" fill="none" stroke="#000" stroke-width="1"/>
<rect x="389" y="342" width="1" height="3" fill="#000"/>
<rect x="388" y="343" width="3" height="1" fill="#000"/>
<rect x="389" y="355" width="1" height="3" fill="#000"/>
<rect x="388" y="356" width="3" height="1" fill="#000"/>
<rect x="388" y="367" width="3" height="3" fill="#000"/>
<rect x="397" y="347" width="3" height="1" fill="#000"/>
<rect x="397" y="349" width="3" height="1" fill="#000"/>
<rect x="397" y="347" width="1" height="3" fill="#000"/>
<rect x="399" y="347" width="1" height="3" fill="#000"/>
<rect x="397" y="359" width="3" height="1" fill="#000"/>
<rect x="397" y="361" width="3" height="1" fill="#000"/>
<rect x="397" y="359" width="1" height="3" fill="#000"/>
<rect x="399" y="359" width="1" height="3" fill="#000"/>
<rect x="398" y="371" width="1" height="3" fill="#000"/>
<rect x="397" y="372" width="3" height="1" fill="#000"/>
<rect x="447" y="334" width="25" height="1" fill="#000"/>
<rect x="447" y="383" width="25" height="1" fill="#000"/>
<rect x="447" y="334" width="1" height="50" fill="#000"/>
<rect x="471" y="334" width="1" height="50" fill="#000"/>
<path d="M450.5 345.5 L451.5 343.5 L452.5 341.5 L454.5 339.5 L456.5 338.5 L458.5 337.5 L459.5 337.5 L461.5 338.5 L463.5 339.5 L465.5 341.5 L466.5 343.5 L467.5 345.5 L467.5 372.5 L466.5 374.5 L465.5 376.5 L463.5 377.5 L461.5 378.5 L459.5 379.5 L458.5 379.5 L456.5 378.5 L454.5 377.5 L452.5 375.5 L451.5 373.5 L450.5 371.5 Z" fill="none" stroke="#000" stroke-width="1"/>
<rect x="454" y="342" width="1" height="3" fill="#000"/>
<rect x="453" y="343" width="3" height="1" fill="#000"/>
<rect x="453" y="355" width="3" height="3" fill="#000"/>
<rect x="454" y="367" width="1" height="3" fill="#000"/>
<rect x="453" y="368" width="3" height="1" fill="#000"/>
<rect x="462" y="347" width="3" height="1" fill="#000"/>
<rect x="462" y="349" width="3" height="1" fill="#000"/>
<rect x="462" y="347" width="1" height="3" fill="#000"/>
<rect x="464" y="347" width="1" height="3" fill="#000"/>
<rect x="463" y="359" width="1" height="3" fill="#000"/>
<rect x="462" y="360" width="3" height="1" fill="#000"/>
<rect x="463" y="371" width="1" height="3" fill="#000"/>
<rect x="462" y="372" width="3" height="1" fill="#000"/>
<rect x="357" y="334" width="3" height="1" fill="#000"/>
<rect x="357" y="336" width="3" height="1" fill="#000"/>
<rect x="357" y="334" width="1" height="3" fill="#000"/>
<rect x="359" y="334" width="1" height="3" fill="#000"/>
<rect x="361" y="334" width="3" height="1" fill="#000"/>
<rect x="361" y="336" width="3" height="1" fill="#000"/>
<rect x="361" y="334" width="1" height="3" fill="#000"/>
<rect x="363" y="334" width="1" height="3" fill="#000"/>
<rect x="365" y="334" width="3" height="3" fill="#000"/>
<rect x="423" y="334" width="3" height="3" fill="#000"/>
<rect x="427" y="334" width="3" height="1" fill="#000"/>
<rect x="427" y="336" width="3" height="1" fill="#000"/>
<rect x="427" y="334" width="1" height="3" fill="#000"/>
<rect x="429" y="334" width="1" height="3" fill="#000"/>
<rect x="431" y="334" width="3" height="1" fill="#000"/>
<rect x="431" y="336" width="3" height="1" fill="#000"/>
<rect x="431" y="334" width="1" height="3" fill="#000"/>
<rect x="433" y="334" width="1" height="3" fill="#000"/>
<rect x="354" y="354" width="5" height="1" fill="#000"/>
<rect x="354" y="363" width="5" height="1" fill="#000"/>
<rect x="354" y="354" width="1" height="10" fill="#000"/>
<rect x="358" y="354" width="1" height="10" fill="#000"/>
<rect x="354" y="359" width="5" height="1" fill="#000"/>
<rect x="419" y="354" width="6" height="1" fill="#000"/>
<rect x="419" y="363" width="6" height="1" fill="#000"/>
<rect x="419" y="354" width="1" height="10" fill="#000"/>
<rect x="424" y="354" width="1" height="10" fill="#000"/>
<rect x="419" y="359" width="6" height="1" fill="#000"/>
<rect x="112" y="374" width="1" height="43" fill="#000"/>
<rect x="176" y="374" width="1" height="43" fill="#000"/>
<rect x="394" y="374" width="1" height="43" fill="#000"/>
<rect x="458" y="374" width="1" height="43" fill="#000"/>
<rect x="112" y="416" width="13" height="1" fill="#000"/>
<rect x="176" y="416" width="14" height="1" fill="#000"/>
<rect x="382" y="416" width="13" height="1" fill="#000"/>
<rect x="446" y="416" width="13" height="1" fill="#000"/>
<path d="M571.5 343.5 L586.5 337.5 L591.5 338.5 V344.5 H594.5 V349.5 H590.5 L575.5 353.5 L573.5 344.5 Z" fill="none" stroke="#000" stroke-width="1"/>
<rect x="595" y="344" width="3" height="5" fill="#000"/>
<path d="M574.5 341.5 L589.5 338.5" fill="none" stroke="#000" stroke-width="1"/>
<rect x="599" y="345" width="76" height="1" fill="#000"/>
<rect x="599" y="348" width="76" height="1" fill="#000"/>
<path d="M571.5 382.5 L586.5 376.5 L591.5 377.5 V383.5 H594.5 V388.5 H590.5 L575.5 392.5 L573.5 383.5 Z" fill="none" stroke="#000" stroke-width="1"/>
<rect x="595" y="383" width="3" height="5" fill="#000"/>
<path d="M574.5 380.5 L589.5 377.5" fill="none" stroke="#000" stroke-width="1"/>
<rect x="599" y="383" width="83" height="1" fill="#000"/>
<rect x="599" y="387" width="83" height="1" fill="#000"/>
<rect x="641" y="344" width="9" height="1" fill="#000"/>
<rect x="641" y="348" width="9" height="1" fill="#000"/>
<rect x="641" y="344" width="1" height="5" fill="#000"/>
<rect x="649" y="344" width="1" height="5" fill="#000"/>
<path d="M673.5 346.5 L676.5 343.5 H683.5 V344.5 H686.5 V343.5 H692.5 V342.5 H695.5 M673.5 347.5 L676.5 349.5 H678.5 V351.5 H684.5 V350.5 H686.5 V351.5 H693.5 V352.5 H695.5" fill="none" stroke="#000" stroke-width="1"/>
<rect x="679" y="343" width="1" height="10" fill="#000"/>
<rect x="684" y="352" width="3" height="2" fill="#000"/>
<rect x="696" y="340" width="2" height="15" fill="#000"/>
<rect x="696" y="341" width="8" height="1" fill="#000"/>
<rect x="696" y="352" width="8" height="1" fill="#000"/>
<rect x="696" y="341" width="1" height="12" fill="#000"/>
<rect x="703" y="341" width="1" height="12" fill="#000"/>
<rect x="681" y="380" width="18" height="1" fill="#000"/>
<rect x="681" y="390" width="18" height="1" fill="#000"/>
<rect x="681" y="380" width="1" height="11" fill="#000"/>
<rect x="698" y="380" width="1" height="11" fill="#000"/>
<rect x="698" y="383" width="5" height="1" fill="#000"/>
<rect x="698" y="388" width="5" height="1" fill="#000"/>
<rect x="698" y="383" width="1" height="6" fill="#000"/>
<rect x="702" y="383" width="1" height="6" fill="#000"/>
<rect x="700" y="385" width="2" height="2" fill="#000"/>
<rect x="631" y="345" width="3" height="4" fill="#000"/>
<rect x="637" y="383" width="3" height="5" fill="#000"/>
<rect x="681" y="386" width="5" height="1" fill="#000"/>
<rect x="681" y="390" width="5" height="1" fill="#000"/>
<rect x="681" y="386" width="1" height="5" fill="#000"/>
<rect x="685" y="386" width="1" height="5" fill="#000"/>
<rect x="639" y="383" width="9" height="1" fill="#000"/>
<rect x="639" y="387" width="9" height="1" fill="#000"/>
<rect x="639" y="383" width="1" height="5" fill="#000"/>
<rect x="647" y="383" width="1" height="5" fill="#000"/>
<rect x="647" y="383" width="9" height="1" fill="#000"/>
<rect x="647" y="387" width="9" height="1" fill="#000"/>
<rect x="647" y="383" width="1" height="5" fill="#000"/>
<rect x="655" y="383" width="1" height="5" fill="#000"/>
<text x="128.75" y="23" font-size="11" font-weight="normal" textLength="26.5" lengthAdjust="spacingAndGlyphs">Frame</text>
<text x="162.65" y="23" font-size="11" font-weight="normal" textLength="38.2" lengthAdjust="spacingAndGlyphs">Manager</text>
<text x="206.75" y="23" font-size="11" font-weight="normal" textLength="45.5" lengthAdjust="spacingAndGlyphs">540-3883</text>
<text x="76.95" y="60" font-size="11" font-weight="normal" textLength="16.5" lengthAdjust="spacingAndGlyphs">Key</text>
<text x="97.35" y="60" font-size="11" font-weight="normal" textLength="31.4" lengthAdjust="spacingAndGlyphs">Switch</text>
<text x="133.75" y="60" font-size="11" font-weight="normal" textLength="24.1" lengthAdjust="spacingAndGlyphs">Cable</text>
<text x="162.35" y="60" font-size="11" font-weight="normal" textLength="46.2" lengthAdjust="spacingAndGlyphs">530-2704</text>
<text x="468.95" y="82" font-size="11" font-weight="normal" textLength="16.5" lengthAdjust="spacingAndGlyphs">Key</text>
<text x="489.35" y="82" font-size="11" font-weight="normal" textLength="31.4" lengthAdjust="spacingAndGlyphs">Switch</text>
<text x="525.75" y="82" font-size="11" font-weight="normal" textLength="24.1" lengthAdjust="spacingAndGlyphs">Cable</text>
<text x="554.35" y="82" font-size="11" font-weight="normal" textLength="46.2" lengthAdjust="spacingAndGlyphs">530-2704</text>
<text x="155.45" y="88" font-size="11" font-weight="normal" textLength="15.9" lengthAdjust="spacingAndGlyphs">Fan</text>
<text x="175.65" y="88" font-size="11" font-weight="normal" textLength="35.0" lengthAdjust="spacingAndGlyphs">Control</text>
<text x="218.35" y="88" font-size="11" text-anchor="middle">Y</text>
<text x="225.75" y="88" font-size="11" font-weight="normal" textLength="24.3" lengthAdjust="spacingAndGlyphs">Cable</text>
<text x="254.65" y="88" font-size="11" font-weight="normal" textLength="44.8" lengthAdjust="spacingAndGlyphs">530-2565</text>
<text x="298.75" y="132.5" font-size="11" font-weight="normal" textLength="17.0" lengthAdjust="spacingAndGlyphs">A/B</text>
<text x="318.75" y="132.5" font-size="11" font-weight="normal" textLength="45.1" lengthAdjust="spacingAndGlyphs">530-2563</text>
<text x="272" y="161" font-size="11" font-weight="normal" textLength="45" lengthAdjust="spacingAndGlyphs">530-2560</text>
<text x="414.5" y="161" font-size="11" font-weight="normal" textLength="45" lengthAdjust="spacingAndGlyphs">530-2573</text>
<text x="117.65" y="177" font-size="11" font-weight="normal" textLength="20.6" lengthAdjust="spacingAndGlyphs">Rack</text>
<text x="143.65" y="177" font-size="11" font-weight="normal" textLength="15.0" lengthAdjust="spacingAndGlyphs">Fan</text>
<text x="163.75" y="177" font-size="11" font-weight="normal" textLength="18.0" lengthAdjust="spacingAndGlyphs">Tray</text>
<text x="189.25" y="177" font-size="11" text-anchor="middle">0</text>
<text x="196.55" y="177" font-size="11" font-weight="normal" textLength="45.7" lengthAdjust="spacingAndGlyphs">540-3662</text>
<text x="482.65" y="177" font-size="11" font-weight="normal" textLength="20.6" lengthAdjust="spacingAndGlyphs">Rack</text>
<text x="508.65" y="177" font-size="11" font-weight="normal" textLength="15.0" lengthAdjust="spacingAndGlyphs">Fan</text>
<text x="528.75" y="177" font-size="11" font-weight="normal" textLength="18.0" lengthAdjust="spacingAndGlyphs">Tray</text>
<text x="554.25" y="177" font-size="11" text-anchor="middle">1</text>
<text x="561.55" y="177" font-size="11" font-weight="normal" textLength="45.7" lengthAdjust="spacingAndGlyphs">540-3662</text>
<text x="94.65" y="199.5" font-size="11" font-weight="normal" textLength="14.5" lengthAdjust="spacingAndGlyphs">AC</text>
<text x="113.45" y="199.5" font-size="11" font-weight="normal" textLength="24.4" lengthAdjust="spacingAndGlyphs">Cable</text>
<text x="143.15" y="199.5" font-size="11" font-weight="normal" textLength="45.0" lengthAdjust="spacingAndGlyphs">180-1945</text>
<text x="192.05" y="199.5" font-size="11" font-weight="normal" textLength="9.2" lengthAdjust="spacingAndGlyphs">or</text>
<text x="205.65" y="199.5" font-size="11" font-weight="normal" textLength="44.5" lengthAdjust="spacingAndGlyphs">180-1948</text>
<text x="87.75" y="217" font-size="11" font-weight="normal" textLength="14.5" lengthAdjust="spacingAndGlyphs">AC</text>
<text x="106.55" y="217" font-size="11" font-weight="normal" textLength="24.4" lengthAdjust="spacingAndGlyphs">Cable</text>
<text x="136.25" y="217" font-size="11" font-weight="normal" textLength="45.0" lengthAdjust="spacingAndGlyphs">180-1946</text>
<text x="538.75" y="203.5" font-size="11" font-weight="normal" textLength="14.5" lengthAdjust="spacingAndGlyphs">AC</text>
<text x="557.55" y="203.5" font-size="11" font-weight="normal" textLength="24.4" lengthAdjust="spacingAndGlyphs">Cable</text>
<text x="587.25" y="203.5" font-size="11" font-weight="normal" textLength="45.0" lengthAdjust="spacingAndGlyphs">180-1948</text>
<text x="321.75" y="257.5" font-size="11" font-weight="normal" textLength="14.5" lengthAdjust="spacingAndGlyphs">AC</text>
<text x="340.55" y="257.5" font-size="11" font-weight="normal" textLength="24.4" lengthAdjust="spacingAndGlyphs">Cable</text>
<text x="370.25" y="257.5" font-size="11" font-weight="normal" textLength="45.0" lengthAdjust="spacingAndGlyphs">180-1947</text>
<text x="317.75" y="233.5" font-size="11" font-weight="normal" textLength="10.5" lengthAdjust="spacingAndGlyphs">To</text>
<text x="332.55" y="233.5" font-size="11" font-weight="normal" textLength="26.45" lengthAdjust="spacingAndGlyphs">SSC0</text>
<text x="402.75" y="233.5" font-size="11" font-weight="normal" textLength="10.6" lengthAdjust="spacingAndGlyphs">To</text>
<text x="417.75" y="233.5" font-size="11" font-weight="normal" textLength="24.6" lengthAdjust="spacingAndGlyphs">SSC1</text>
<text x="119.65" y="285" font-size="11" font-weight="normal" textLength="14.8" lengthAdjust="spacingAndGlyphs">AC</text>
<text x="137.45" y="285" font-size="11" font-weight="normal" textLength="23.2" lengthAdjust="spacingAndGlyphs">Input</text>
<text x="164.65" y="285" font-size="11" font-weight="normal" textLength="17.5" lengthAdjust="spacingAndGlyphs">Box</text>
<text x="187.75" y="285" font-size="11" text-anchor="middle">1</text>
<text x="192.95" y="285" font-size="11" font-weight="normal" textLength="46.3" lengthAdjust="spacingAndGlyphs">540-3588</text>
<text x="484.75" y="285" font-size="11" font-weight="normal" textLength="14.8" lengthAdjust="spacingAndGlyphs">AC</text>
<text x="502.35" y="285" font-size="11" font-weight="normal" textLength="23.0" lengthAdjust="spacingAndGlyphs">Input</text>
<text x="529.45" y="285" font-size="11" font-weight="normal" textLength="17.8" lengthAdjust="spacingAndGlyphs">Box</text>
<text x="552.1" y="285" font-size="11" text-anchor="middle">0</text>
<text x="558.25" y="285" font-size="11" font-weight="normal" textLength="46.5" lengthAdjust="spacingAndGlyphs">540-3588</text>
<text x="147.55" y="312" font-size="11" font-weight="normal" textLength="19.5" lengthAdjust="spacingAndGlyphs">Rear</text>
<text x="173.55" y="312" font-size="11" font-weight="normal" textLength="24.9" lengthAdjust="spacingAndGlyphs">RTU0</text>
<text x="203.55" y="312" font-size="11" font-weight="normal" textLength="46.5" lengthAdjust="spacingAndGlyphs">300-1335</text>
<text x="429.65" y="312" font-size="11" font-weight="normal" textLength="24.5" lengthAdjust="spacingAndGlyphs">Front</text>
<text x="458.55" y="312" font-size="11" font-weight="normal" textLength="22.9" lengthAdjust="spacingAndGlyphs">RTU1</text>
<text x="486.65" y="312" font-size="11" font-weight="normal" textLength="45.9" lengthAdjust="spacingAndGlyphs">300-1335</text>
<text x="102.5" y="328.5" font-size="8.7" font-weight="normal" textLength="20" lengthAdjust="spacingAndGlyphs">RTS0</text>
<text x="167.5" y="328.5" font-size="8.7" font-weight="normal" textLength="20" lengthAdjust="spacingAndGlyphs">RTS1</text>
<text x="384.5" y="328.5" font-size="8.7" font-weight="normal" textLength="20.5" lengthAdjust="spacingAndGlyphs">RTS2</text>
<text x="446.5" y="328.5" font-size="8.7" font-weight="normal" textLength="21.5" lengthAdjust="spacingAndGlyphs">RTS3</text>
<text x="558.55" y="333" font-size="11" font-weight="normal" textLength="19.4" lengthAdjust="spacingAndGlyphs">32A</text>
<text x="582.45" y="333" font-size="11" font-weight="normal" textLength="34.8" lengthAdjust="spacingAndGlyphs">IEC309</text>
<text x="620.55" y="333" font-size="11" font-weight="normal" textLength="15.0" lengthAdjust="spacingAndGlyphs">AC</text>
<text x="639.85" y="333" font-size="11" font-weight="normal" textLength="24.3" lengthAdjust="spacingAndGlyphs">Cable</text>
<text x="669.15" y="333" font-size="11" font-weight="normal" textLength="45.1" lengthAdjust="spacingAndGlyphs">180-1944</text>
<text x="554.65" y="370" font-size="11" font-weight="normal" textLength="30.0" lengthAdjust="spacingAndGlyphs">NEMA</text>
<text x="588.85" y="370" font-size="11" font-weight="normal" textLength="34.0" lengthAdjust="spacingAndGlyphs">L6-30P</text>
<text x="626.65" y="370" font-size="11" font-weight="normal" textLength="14.7" lengthAdjust="spacingAndGlyphs">AC</text>
<text x="645.45" y="370" font-size="11" font-weight="normal" textLength="24.8" lengthAdjust="spacingAndGlyphs">Cable</text>
<text x="674.55" y="370" font-size="11" font-weight="normal" textLength="44.1" lengthAdjust="spacingAndGlyphs">180-1943</text>
<text x="196.55" y="419" font-size="11" font-weight="normal" textLength="48.6" lengthAdjust="spacingAndGlyphs">Redundant</text>
<text x="250.75" y="419" font-size="11" font-weight="normal" textLength="36.2" lengthAdjust="spacingAndGlyphs">Transfer</text>
<text x="292.55" y="419" font-size="11" font-weight="normal" textLength="31.0" lengthAdjust="spacingAndGlyphs">Switch</text>
<text x="327.45" y="419" font-size="11" font-weight="normal" textLength="45.3" lengthAdjust="spacingAndGlyphs">300-1396</text>
<text x="190.55" y="434" font-size="11" font-weight="normal" textLength="34.0" lengthAdjust="spacingAndGlyphs">Harting</text>
<text x="230.45" y="434" font-size="11" font-weight="normal" textLength="17.4" lengthAdjust="spacingAndGlyphs">Han</text>
<text x="252.65" y="434" font-size="11" font-weight="normal" textLength="26.3" lengthAdjust="spacingAndGlyphs">6HsB</text>
<text x="282.75" y="434" font-size="11" font-weight="normal" textLength="14.8" lengthAdjust="spacingAndGlyphs">AC</text>
<text x="302.05" y="434" font-size="11" font-weight="normal" textLength="22.9" lengthAdjust="spacingAndGlyphs">Input</text>
<text x="331.45" y="434" font-size="11" font-weight="normal" textLength="47.6" lengthAdjust="spacingAndGlyphs">Receptacle</text>
<text class="n" x="648.7" y="230" font-size="8.6" font-weight="normal" textLength="96.5" lengthAdjust="spacingAndGlyphs" style="word-spacing:0.5px">Label263-0654-01 shows</text>
<text class="n" x="648.7" y="241" font-size="8.6" font-weight="normal" textLength="95" lengthAdjust="spacingAndGlyphs" style="word-spacing:0.5px">AC0 - left and AC1 - right.</text>
<text class="n" x="648.7" y="252" font-size="8.6" font-weight="normal" textLength="96.5" lengthAdjust="spacingAndGlyphs" style="word-spacing:0.5px">Label263-0654-02 shows</text>
<text class="n" x="648.7" y="263" font-size="8.6" font-weight="normal" textLength="95" lengthAdjust="spacingAndGlyphs" style="word-spacing:0.5px">AC1 - left and AC0 - right.</text>
<text class="n" x="648.7" y="274" font-size="8.6" font-weight="normal" textLength="100.5" lengthAdjust="spacingAndGlyphs" style="word-spacing:0.5px">The -02 label was released</text>
<text class="n" x="648.7" y="284" font-size="8.6" font-weight="normal" textLength="65" lengthAdjust="spacingAndGlyphs" style="word-spacing:0.5px">in February 2001.</text>
</svg>
</body></html>
